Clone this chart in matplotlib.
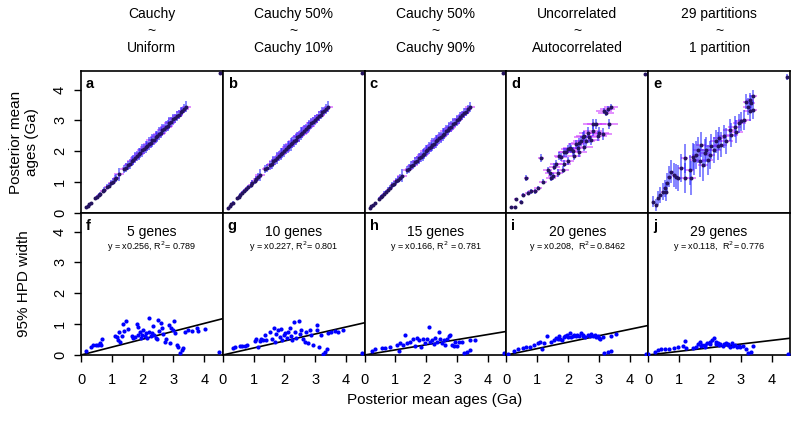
import matplotlib
matplotlib.use("Agg")
import matplotlib.pyplot as plt

plt.rcParams['font.family'] = ['Liberation Sans', 'DejaVu Sans']

# column headers (model comparisons) and gene-subset titles
col_titles = ["Cauchy\n~\nUniform", "Cauchy 50%\n~\nCauchy 10%", "Cauchy 50%\n~\nCauchy 90%",
              "Uncorrelated\n~\nAutocorrelated", "29 partitions\n~\n1 partition"]
top_letters = ["a", "b", "c", "d", "e"]
bot_letters = ["f", "g", "h", "i", "j"]
gene_titles = ["5 genes", "10 genes", "15 genes", "20 genes", "29 genes"]
fit_texts = ["y = x0.256, R$^2$= 0.789", "y = x0.227, R$^2$= 0.801", "y = x0.166, R$^2$ = 0.781",
             "y = x0.208,  R$^2$= 0.8462", "y = x0.118,  R$^2$= 0.776"]
slopes = [0.256, 0.227, 0.166, 0.208, 0.118]

# top row: posterior mean ages, model on x vs model on y
ages = [0.16, 0.22, 0.27, 0.33, 0.47, 0.52, 0.57, 0.63, 0.70, 0.76,
        0.83, 0.90, 0.96, 1.03, 1.09, 1.15, 1.22, 1.38, 1.45, 1.52,
        1.58, 1.64, 1.70, 1.76, 1.82, 1.88, 1.93, 1.99, 2.04, 2.10,
        2.15, 2.20, 2.26, 2.31, 2.36, 2.42, 2.47, 2.53, 2.58, 2.64,
        2.70, 2.75, 2.81, 2.87, 2.93, 2.99, 3.05, 3.11, 3.17, 3.23,
        3.29, 3.35, 3.42, 4.50]
a_y = [0.18, 0.24, 0.29, 0.31, 0.48, 0.51, 0.59, 0.62, 0.72, 0.75,
       0.85, 0.89, 0.98, 1.02, 1.11, 1.14, 1.25, 1.42, 1.47, 1.55,
       1.60, 1.68, 1.72, 1.79, 1.85, 1.91, 1.95, 2.03, 2.06, 2.14,
       2.17, 2.24, 2.28, 2.35, 2.38, 2.46, 2.49, 2.57, 2.60, 2.68,
       2.72, 2.79, 2.83, 2.91, 2.95, 3.03, 3.07, 3.15, 3.19, 3.27,
       3.31, 3.38, 3.45, 4.54]
b_y = [0.17, 0.23, 0.28, 0.34, 0.47, 0.53, 0.58, 0.64, 0.71, 0.77,
       0.84, 0.91, 0.97, 1.04, 1.10, 1.17, 1.24, 1.41, 1.46, 1.54,
       1.59, 1.67, 1.71, 1.78, 1.84, 1.90, 1.95, 2.02, 2.06, 2.13,
       2.17, 2.23, 2.28, 2.34, 2.38, 2.45, 2.49, 2.56, 2.60, 2.67,
       2.72, 2.78, 2.83, 2.90, 2.95, 3.02, 3.07, 3.14, 3.19, 3.26,
       3.31, 3.37, 3.45, 4.54]
c_y = [0.16, 0.22, 0.27, 0.33, 0.46, 0.52, 0.56, 0.63, 0.69, 0.76,
       0.82, 0.90, 0.95, 1.03, 1.08, 1.15, 1.21, 1.39, 1.44, 1.53,
       1.57, 1.65, 1.69, 1.77, 1.81, 1.89, 1.92, 2.00, 2.03, 2.11,
       2.14, 2.21, 2.25, 2.32, 2.35, 2.43, 2.46, 2.54, 2.57, 2.65,
       2.69, 2.76, 2.80, 2.88, 2.92, 3.00, 3.04, 3.12, 3.16, 3.24,
       3.28, 3.36, 3.43, 4.52]
abc_xerr = [0.02, 0.03, 0.03, 0.04, 0.05, 0.05, 0.06, 0.06, 0.07, 0.07,
            0.08, 0.08, 0.09, 0.10, 0.10, 0.11, 0.16, 0.12, 0.13, 0.13,
            0.14, 0.15, 0.12, 0.16, 0.14, 0.17, 0.15, 0.18, 0.14, 0.17,
            0.15, 0.18, 0.16, 0.19, 0.15, 0.18, 0.16, 0.19, 0.17, 0.18,
            0.16, 0.19, 0.17, 0.18, 0.16, 0.17, 0.15, 0.16, 0.14, 0.15,
            0.13, 0.14, 0.15, 0.02]
abc_yerr = [0.02, 0.03, 0.03, 0.04, 0.05, 0.06, 0.06, 0.07, 0.07, 0.08,
            0.08, 0.09, 0.10, 0.10, 0.11, 0.12, 0.20, 0.13, 0.14, 0.15,
            0.16, 0.17, 0.15, 0.18, 0.16, 0.19, 0.17, 0.20, 0.16, 0.19,
            0.17, 0.21, 0.18, 0.20, 0.17, 0.19, 0.18, 0.21, 0.17, 0.19,
            0.16, 0.18, 0.17, 0.19, 0.15, 0.17, 0.15, 0.16, 0.14, 0.16,
            0.13, 0.15, 0.17, 0.02]

d_x = [0.16, 0.27, 0.32, 0.48, 0.54, 0.65, 0.70, 0.81, 0.92, 1.02,
       1.13, 1.18, 1.34, 1.40, 1.45, 1.50, 1.56, 1.61, 1.67, 1.72,
       1.78, 1.83, 1.88, 1.94, 1.99, 2.05, 2.10, 2.15, 2.26, 2.31,
       2.37, 2.42, 2.48, 2.53, 2.58, 2.64, 2.69, 2.80, 2.80, 2.91,
       3.01, 3.12, 3.17, 3.23, 3.28, 3.33, 3.39,
       1.88, 1.99, 2.20, 2.37, 2.53, 2.75, 2.96, 4.51]
d_y = [0.20, 0.20, 0.45, 0.37, 0.59, 1.13, 0.65, 0.70, 0.70, 0.81,
       1.78, 1.02, 1.40, 1.30, 1.13, 1.19, 1.50, 1.60, 1.30, 1.85,
       1.80, 1.40, 1.96, 1.96, 2.07, 2.12, 2.07, 2.00, 2.23, 2.12,
       2.28, 2.34, 2.45, 2.50, 2.34, 2.60, 2.45, 2.67, 2.88, 2.88,
       2.60, 2.56, 3.30, 3.25, 3.36, 2.88, 3.44,
       1.60, 1.68, 1.85, 1.97, 2.15, 2.35, 2.50, 4.50]
d_xerr = [0.04, 0.05, 0.06, 0.07, 0.08, 0.08, 0.09, 0.10, 0.11, 0.12,
          0.10, 0.13, 0.14, 0.15, 0.15, 0.16, 0.17, 0.18, 0.18, 0.19,
          0.20, 0.20, 0.21, 0.22, 0.22, 0.23, 0.24, 0.24, 0.25, 0.26,
          0.26, 0.27, 0.28, 0.28, 0.29, 0.29, 0.30, 0.30, 0.31, 0.31,
          0.32, 0.32, 0.25, 0.25, 0.24, 0.30, 0.22,
          0.20, 0.21, 0.23, 0.25, 0.27, 0.29, 0.30, 0.03]
d_yerr = [0.03, 0.04, 0.05, 0.05, 0.06, 0.09, 0.07, 0.07, 0.08, 0.08,
          0.14, 0.09, 0.10, 0.10, 0.10, 0.11, 0.11, 0.12, 0.12, 0.12,
          0.13, 0.12, 0.13, 0.13, 0.14, 0.14, 0.14, 0.14, 0.15, 0.15,
          0.15, 0.16, 0.16, 0.16, 0.16, 0.17, 0.17, 0.17, 0.17, 0.17,
          0.17, 0.18, 0.10, 0.10, 0.10, 0.15, 0.09,
          0.12, 0.12, 0.13, 0.14, 0.15, 0.16, 0.16, 0.03]

e_x = [0.17, 0.26, 0.31, 0.39, 0.48, 0.53, 0.58, 0.61, 0.69, 0.75,
       0.85, 0.91, 0.96, 1.07, 1.18, 1.18, 1.34, 1.40, 1.45, 1.50,
       1.56, 1.61, 1.67, 1.72, 1.77, 1.83, 1.88, 1.93, 1.99, 2.04,
       2.15, 2.20, 2.25, 2.30, 2.36, 2.47, 2.53, 2.64, 2.69, 2.80,
       2.86, 2.96, 3.01, 3.12, 3.18, 3.23, 3.29, 3.34, 3.40, 3.40,
       3.29, 4.50]
e_y = [0.37, 0.26, 0.48, 0.58, 0.69, 0.80, 0.69, 0.96, 1.18, 1.34,
       1.23, 1.18, 1.13, 1.45, 1.13, 1.77, 1.40, 1.13, 1.83, 1.72,
       1.88, 2.05, 1.67, 2.21, 1.56, 1.94, 2.05, 1.72, 1.88, 2.16,
       2.05, 2.32, 2.16, 2.42, 2.21, 2.48, 2.32, 2.69, 2.53, 2.80,
       2.64, 2.90, 2.97, 3.02, 3.61, 3.45, 3.29, 3.56, 3.78, 3.34,
       3.65, 4.40]
e_xerr = [0.03, 0.04, 0.04, 0.05, 0.06, 0.06, 0.07, 0.07, 0.08, 0.08,
          0.09, 0.10, 0.10, 0.11, 0.12, 0.12, 0.13, 0.14, 0.14, 0.15,
          0.15, 0.16, 0.16, 0.17, 0.17, 0.18, 0.18, 0.18, 0.19, 0.19,
          0.20, 0.20, 0.20, 0.21, 0.21, 0.21, 0.22, 0.22, 0.22, 0.22,
          0.22, 0.22, 0.21, 0.20, 0.12, 0.15, 0.18, 0.13, 0.12, 0.14,
          0.13, 0.03]
e_yerr = [0.18, 0.20, 0.22, 0.25, 0.27, 0.28, 0.30, 0.32, 0.35, 0.37,
          0.38, 0.40, 0.42, 0.45, 0.48, 0.47, 0.48, 0.55, 0.45, 0.50,
          0.45, 0.42, 0.50, 0.40, 0.52, 0.45, 0.40, 0.48, 0.45, 0.40,
          0.42, 0.38, 0.45, 0.38, 0.40, 0.36, 0.42, 0.35, 0.38, 0.35,
          0.38, 0.32, 0.30, 0.32, 0.25, 0.28, 0.30, 0.26, 0.22, 0.28,
          0.24, 0.10]

# bottom row: posterior mean age vs 95% HPD width
f_x = [0.16, 0.31, 0.40, 0.49, 0.56, 0.62, 0.67, 0.64, 1.10, 1.16,
       1.21, 1.24, 1.27, 1.32, 1.35, 1.40, 1.45, 1.54, 1.65, 1.70,
       1.75, 1.81, 1.84, 1.86, 1.92, 1.95, 1.97, 2.02, 2.08, 2.10,
       2.13, 2.19, 2.22, 2.26, 2.29, 2.33, 2.37, 2.43, 2.48, 2.51,
       2.54, 2.59, 2.62, 2.67, 2.73, 2.76, 2.84, 2.89, 2.91, 2.98,
       3.03, 3.05, 3.11, 3.16, 3.21, 3.27, 3.32, 3.38, 3.48, 3.59,
       3.76, 3.81, 4.03, 4.49]
f_y = [0.14, 0.27, 0.31, 0.32, 0.31, 0.40, 0.51, 0.31, 0.62, 0.57,
       0.49, 0.74, 0.43, 0.60, 1.01, 0.78, 1.10, 0.83, 0.60, 0.54,
       0.57, 1.00, 0.65, 0.92, 0.76, 0.54, 0.65, 0.81, 0.60, 0.70,
       0.54, 0.76, 1.21, 0.62, 0.70, 0.95, 0.65, 0.54, 0.51, 1.14,
       0.79, 1.03, 0.89, 0.68, 0.43, 0.51, 0.97, 0.38, 0.87, 0.81,
       1.10, 0.70, 0.32, 0.27, 0.08, 0.16, 0.22, 0.76, 0.81, 0.79,
       0.89, 0.79, 0.83, 0.11]
g_x = [0.33, 0.41, 0.55, 0.62, 0.71, 0.80, 1.03, 1.09, 1.14, 1.20,
       1.25, 1.30, 1.36, 1.41, 1.52, 1.58, 1.65, 1.68, 1.74, 1.79,
       1.85, 1.88, 1.93, 1.98, 2.03, 2.08, 2.12, 2.17, 2.20, 2.26,
       2.30, 2.33, 2.39, 2.46, 2.49, 2.55, 2.60, 2.66, 2.71, 2.77,
       2.82, 2.87, 2.93, 3.04, 3.07, 3.11, 3.20, 3.25, 3.31, 3.39,
       3.42, 3.52, 3.65, 3.74, 3.90, 4.50]
g_y = [0.22, 0.27, 0.29, 0.30, 0.30, 0.32, 0.45, 0.51, 0.27, 0.45,
       0.51, 0.47, 0.65, 0.49, 0.74, 0.51, 0.89, 0.43, 0.68, 0.81,
       0.57, 0.83, 0.49, 0.65, 0.70, 0.54, 0.74, 0.87, 0.60, 0.49,
       1.06, 0.76, 0.54, 1.10, 0.68, 0.81, 0.51, 0.43, 0.76, 0.40,
       0.81, 0.65, 0.32, 0.97, 0.81, 0.27, 0.65, 0.03, 0.11, 0.18,
       0.70, 0.74, 0.78, 0.76, 0.81, 0.05]
h_x = [0.24, 0.35, 0.56, 0.67, 0.83, 1.05, 1.10, 1.16, 1.24, 1.32,
       1.37, 1.48, 1.57, 1.65, 1.70, 1.75, 1.83, 1.89, 1.97, 2.02,
       2.08, 2.11, 2.19, 2.24, 2.29, 2.35, 2.40, 2.46, 2.51, 2.56,
       2.62, 2.67, 2.73, 2.78, 2.84, 2.89, 2.94, 3.00, 3.05, 3.16,
       3.21, 3.32, 3.41, 3.43, 3.57, 4.51]
h_y = [0.13, 0.19, 0.22, 0.24, 0.27, 0.32, 0.14, 0.40, 0.32, 0.65,
       0.38, 0.43, 0.51, 0.29, 0.54, 0.49, 0.27, 0.51, 0.38, 0.52,
       0.92, 0.43, 0.49, 0.36, 0.54, 0.43, 0.73, 0.51, 0.38, 0.47,
       0.32, 0.51, 0.62, 0.65, 0.32, 0.29, 0.43, 0.29, 0.43, 0.43,
       0.05, 0.11, 0.16, 0.49, 0.47, 0.05]
i_x = [0.04, 0.26, 0.37, 0.53, 0.64, 0.78, 0.91, 1.02, 1.10, 1.15,
       1.21, 1.32, 1.45, 1.56, 1.67, 1.72, 1.80, 1.88, 1.97, 2.05,
       2.10, 2.18, 2.26, 2.34, 2.42, 2.48, 2.55, 2.64, 2.73, 2.80,
       2.88, 2.97, 3.05, 3.13, 3.18, 3.29, 3.38, 3.40, 3.54, 4.53,
       1.60, 1.75, 1.90, 2.00, 2.15, 2.30, 2.50, 2.70, 2.90, 3.00]
i_y = [0.03, 0.13, 0.19, 0.22, 0.25, 0.27, 0.32, 0.38, 0.43, 0.18,
       0.40, 0.63, 0.43, 0.49, 0.51, 0.60, 0.47, 0.57, 0.65, 0.70,
       0.57, 0.65, 0.62, 0.60, 0.70, 0.65, 0.57, 0.65, 0.68, 0.62,
       0.65, 0.62, 0.51, 0.57, 0.05, 0.11, 0.14, 0.62, 0.67, 0.03,
       0.55, 0.52, 0.60, 0.58, 0.60, 0.66, 0.60, 0.60, 0.58, 0.55]
j_x = [0.00, 0.21, 0.31, 0.42, 0.56, 0.69, 0.85, 0.96, 1.13, 1.18,
       1.23, 1.45, 1.56, 1.61, 1.67, 1.75, 1.83, 1.90, 1.99, 2.08,
       2.12, 2.19, 2.26, 2.34, 2.42, 2.51, 2.59, 2.66, 2.73, 2.80,
       2.88, 2.97, 3.07, 3.18, 3.24, 3.34, 3.40, 4.53,
       1.70, 1.85, 2.00, 2.20, 2.30, 2.45, 2.60, 2.75, 2.95]
j_y = [0.03, 0.11, 0.16, 0.18, 0.18, 0.19, 0.24, 0.27, 0.30, 0.45,
       0.22, 0.22, 0.27, 0.36, 0.41, 0.32, 0.27, 0.38, 0.43, 0.49,
       0.54, 0.36, 0.40, 0.36, 0.30, 0.38, 0.32, 0.27, 0.40, 0.32,
       0.25, 0.27, 0.30, 0.19, 0.05, 0.11, 0.29, 0.03,
       0.30, 0.33, 0.35, 0.42, 0.32, 0.35, 0.36, 0.30, 0.30]

top_data = [(ages, a_y, abc_xerr, abc_yerr), (ages, b_y, abc_xerr, abc_yerr),
            (ages, c_y, abc_xerr, abc_yerr), (d_x, d_y, d_xerr, d_yerr),
            (e_x, e_y, e_xerr, e_yerr)]
bot_data = [(f_x, f_y), (g_x, g_y), (h_x, h_y), (i_x, i_y), (j_x, j_y)]

W, H = 800, 422
fig = plt.figure(figsize=(8, 4.22), dpi=100)

left0 = 81
pw = 141.8
top_row = (71, 213)
bot_row = (213, 355)
lim = (0, 4.6)


def style_axis(ax, show_x, show_y):
    ax.set_xlim(lim)
    ax.set_ylim(lim)
    for s in ax.spines.values():
        s.set_linewidth(1.2)
    ax.set_xticks([0, 1, 2, 3, 4])
    ax.set_yticks([0, 1, 2, 3, 4])
    ax.tick_params(direction='out', length=5, width=1, labelsize=10.5)
    ax.tick_params(axis='x', bottom=show_x, labelbottom=show_x, pad=8)
    ax.tick_params(axis='y', left=show_y, labelleft=show_y, labelrotation=90, pad=5)
    if show_y:
        for t in ax.get_yticklabels():
            t.set_va('center')


for k in range(5):
    x0 = (left0 + k * pw) / W
    # top row
    ax = fig.add_axes([x0, 1 - top_row[1] / H, pw / W, (top_row[1] - top_row[0]) / H])
    xs, ys, xe, ye = top_data[k]
    ax.errorbar(xs, ys, xerr=xe, fmt='none', ecolor='#cc33ff', elinewidth=1.4, alpha=0.55, capsize=0)
    ax.errorbar(xs, ys, yerr=ye, fmt='none', ecolor='#2222ff', elinewidth=1.4, alpha=0.55, capsize=0)
    ax.scatter(xs, ys, s=8, color='#24135e', zorder=3, linewidths=0)
    style_axis(ax, False, k == 0)
    ax.text(0.035, 0.96, top_letters[k], transform=ax.transAxes, fontsize=10.5,
            fontweight='bold', ha='left', va='top')
    fig.text((left0 + (k + 0.5) * pw) / W, 1 - 31 / H, col_titles[k], ha='center', va='center',
             fontsize=10, linespacing=1.25)

    # bottom row
    ax = fig.add_axes([x0, 1 - bot_row[1] / H, pw / W, (bot_row[1] - bot_row[0]) / H])
    xs, ys = bot_data[k]
    ax.scatter(xs, ys, s=9, color='#0000ff', zorder=3, linewidths=0)
    ax.axline((0, 0), slope=slopes[k], color='black', linewidth=1.2)
    style_axis(ax, True, k == 0)
    ax.text(0.035, 0.96, bot_letters[k], transform=ax.transAxes, fontsize=10.5,
            fontweight='bold', ha='left', va='top')
    ax.text(0.5, 0.865, gene_titles[k], transform=ax.transAxes, fontsize=10, ha='center', va='center')
    ax.text(0.5, 0.765, fit_texts[k], transform=ax.transAxes, fontsize=6.5, ha='center', va='center')

fig.text(24 / W, 1 - 142 / H, "Posterior mean\nages (Ga)", rotation=90, ha='center', va='center',
         fontsize=11, multialignment='center', linespacing=1.15)
fig.text(24 / W, 1 - 284 / H, "95% HPD width", rotation=90, ha='center', va='center', fontsize=11)
fig.text(435 / W, 1 - 400 / H, "Posterior mean ages (Ga)", ha='center', va='center', fontsize=11)

fig.savefig("out.png", dpi=100)
